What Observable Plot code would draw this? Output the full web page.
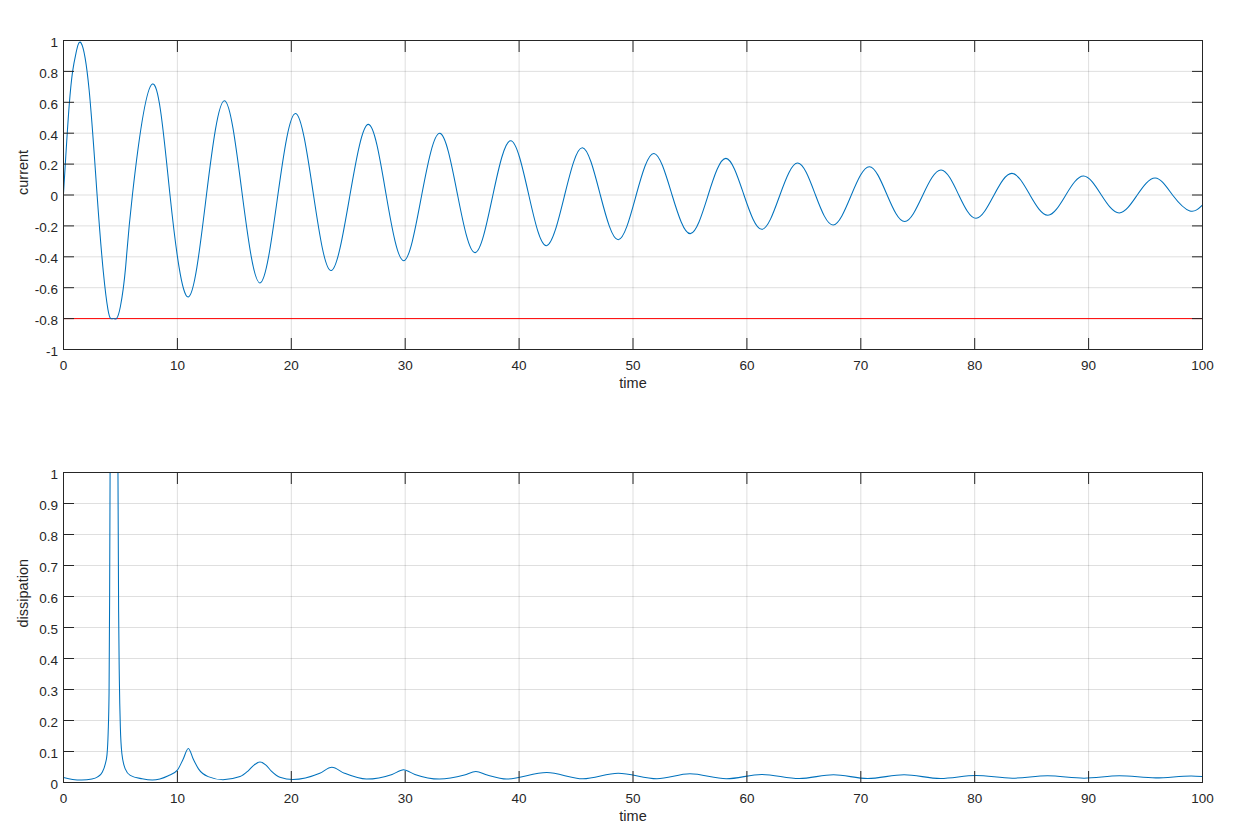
<!DOCTYPE html>
<html>
<head>
<meta charset="utf-8">
<script src="https://cdn.jsdelivr.net/npm/d3@7"></script>
<script src="https://cdn.jsdelivr.net/npm/@observablehq/plot@0.6"></script>
<style>
  html, body { margin: 0; padding: 0; background: #fff; }
  #wrap { width: 1256px; height: 827px; overflow: hidden; }
  #wrap svg { display: block; }
</style>
</head>
<body>
<div id="wrap"></div>
<script>
// ---- data ----
const xTicks = [0, 10, 20, 30, 40, 50, 60, 70, 80, 90, 100];
const currentTicks = [-1, -0.8, -0.6, -0.4, -0.2, 0, 0.2, 0.4, 0.6, 0.8, 1];
const dissTicks = [0, 0.1, 0.2, 0.3, 0.4, 0.5, 0.6, 0.7, 0.8, 0.9, 1];
const currentLimit = [-0.8];

const currentTime = [0, 0.2, 0.5, 0.8, 1.1, 1.55, 2.25, 2.95, 3.5, 3.9, 4.15, 4.4, 4.65, 5.0, 5.45, 6.05, 7.8,
  9.35, 10.96, 12.55, 14.14, 15.7, 17.26, 18.82, 20.38, 21.95, 23.5, 25.15, 26.78, 28.33, 29.88,
  31.45, 33.04, 34.6, 36.14, 37.7, 39.27, 40.85, 42.4, 44.0, 45.56, 47.13, 48.71, 50.28, 51.84,
  53.43, 55.03, 56.6, 58.16, 59.74, 61.32, 62.9, 64.47, 66.02, 67.57, 69.17, 70.76, 72.31, 73.86,
  75.45, 77.05, 78.6, 80.12, 81.7, 83.27, 84.85, 86.43, 88.0, 89.56, 91.12, 92.69, 94.27, 95.85,
  97.37, 98.89, 100];
const currentValue = [0.01, 0.25, 0.58, 0.80, 0.92, 0.983, 0.68, 0, -0.5, -0.74, -0.80, -0.80, -0.80, -0.72, -0.47, 0, 0.718,
  0, -0.66, 0, 0.61, 0, -0.569, 0, 0.528, 0, -0.489, 0, 0.457, 0, -0.425,
  0, 0.399, 0, -0.373, 0, 0.351, 0, -0.328, 0, 0.306, 0, -0.289, 0, 0.269,
  0, -0.25, 0, 0.237, 0, -0.222, 0, 0.207, 0, -0.194, 0, 0.183, 0, -0.172,
  0, 0.162, 0, -0.151, 0, 0.140, 0, -0.131, 0, 0.123, 0, -0.116, 0, 0.110,
  0, -0.103, -0.065];

const dissTime = [0, 0.8, 1.6, 2.5, 3.0, 3.4, 3.67, 3.82, 3.92, 4.0, 4.05, 4.1, 4.43, 4.77, 4.84, 4.9, 4.99,
  5.13, 5.42, 5.86, 6.9, 7.8, 9.2, 10.0, 10.5, 10.96, 11.4, 11.85, 12.7, 14.0, 15.5, 16.2, 16.75,
  17.25, 17.75, 18.25, 19.0, 20.15, 22.5, 23.56, 24.66, 26.6, 28.85, 29.85, 30.85, 33.0, 35.2,
  36.2, 37.2, 38.9, 42.43, 45.6, 48.7, 52.1, 55.0, 58.2, 61.3, 64.6, 67.6, 70.6, 73.8, 77.0,
  80.1, 83.3, 86.4, 89.6, 92.7, 95.9, 99.0, 100];
const dissValue = [0.016, 0.010, 0.008, 0.011, 0.018, 0.033, 0.06, 0.09, 0.16, 0.29, 0.6, 1.1, 2.6, 1.1, 0.55, 0.34, 0.18,
  0.092, 0.044, 0.023, 0.012, 0.008, 0.022, 0.04, 0.075, 0.11, 0.075, 0.044, 0.019, 0.009, 0.019, 0.037, 0.057,
  0.066, 0.057, 0.037, 0.017, 0.0097, 0.030, 0.049, 0.030, 0.011, 0.026, 0.041, 0.026, 0.011, 0.024,
  0.0355, 0.024, 0.011, 0.032, 0.012, 0.030, 0.012, 0.028, 0.012, 0.026, 0.013, 0.025, 0.013, 0.025, 0.013,
  0.0226, 0.014, 0.0215, 0.014, 0.0215, 0.015, 0.021, 0.019];

// ---- build tables ----
const currentData = currentTime.map((t, i) => ({t, v: currentValue[i]}));
const dissData = dissTime.map((t, i) => ({t, v: dissValue[i]}));

const FONT = "'Liberation Sans', Arial, Helvetica, sans-serif";
const INK = "#262626";
const BLUE = "#0072BD";

function panel({data, yDomain, yTicks, yLabel, height, marginTop, marginBottom, curve, extra = []}) {
  const fmt = d => String(d);
  return Plot.plot({
    width: 1256,
    height,
    marginTop,
    marginBottom,
    marginLeft: 63,
    marginRight: 54,
    style: {fontFamily: FONT, fontSize: "13.5px", color: INK, background: "#fff", overflow: "visible"},
    x: {domain: [0, 100], ticks: xTicks},
    y: {domain: yDomain, ticks: yTicks},
    marks: [
      Plot.gridX(xTicks, {stroke: INK, strokeOpacity: 0.15, strokeWidth: 1}),
      Plot.gridY(yTicks, {stroke: INK, strokeOpacity: 0.15, strokeWidth: 1}),
      ...extra,
      Plot.line(data, {x: "t", y: "v", stroke: BLUE, strokeWidth: 1.05, curve, clip: true}),
      Plot.frame({stroke: INK, strokeWidth: 1}),
      // inward ticks on all four sides
      Plot.axisX(xTicks, {anchor: "bottom", tickSize: 11, dy: -11, fill: "none", label: null, stroke: INK}),
      Plot.axisX(xTicks, {anchor: "top", tickSize: 11, dy: 11, fill: "none", label: null, stroke: INK}),
      Plot.axisY(yTicks, {anchor: "left", tickSize: 11, dx: 11, fill: "none", label: null, stroke: INK}),
      Plot.axisY(yTicks, {anchor: "right", tickSize: 11, dx: -11, fill: "none", label: null, stroke: INK}),
      // tick labels
      Plot.axisX(xTicks, {anchor: "bottom", tickSize: 0, tickPadding: 10.5, label: null, tickFormat: fmt, fill: INK, fontSize: 13.5}),
      Plot.axisY(yTicks, {anchor: "left", tickSize: 0, tickPadding: 5.5, label: null, tickFormat: fmt, fill: INK, fontSize: 13.5, dy: 2}),
      // axis titles
      Plot.text(["time"], {text: d => d, frameAnchor: "bottom", dy: 38.5, fill: INK, fontSize: 14.5}),
      Plot.text([yLabel], {text: d => d, frameAnchor: "left", rotate: -90, dx: -40, fill: INK, fontSize: 14.5})
    ]
  });
}

const topPanel = panel({
  data: currentData,
  yDomain: [-1, 1],
  yTicks: currentTicks,
  yLabel: "current",
  height: 413,
  marginTop: 40,
  marginBottom: 64,
  curve: "natural",
  extra: [Plot.ruleY(currentLimit, {stroke: "#FF0000", strokeWidth: 1})]
});

const bottomPanel = panel({
  data: dissData,
  yDomain: [0, 1],
  yTicks: dissTicks,
  yLabel: "dissipation",
  height: 414,
  marginTop: 59,
  marginBottom: 45,
  curve: "monotone-x"
});

const wrap = document.getElementById("wrap");
wrap.appendChild(topPanel);
wrap.appendChild(bottomPanel);
</script>
</body>
</html>
